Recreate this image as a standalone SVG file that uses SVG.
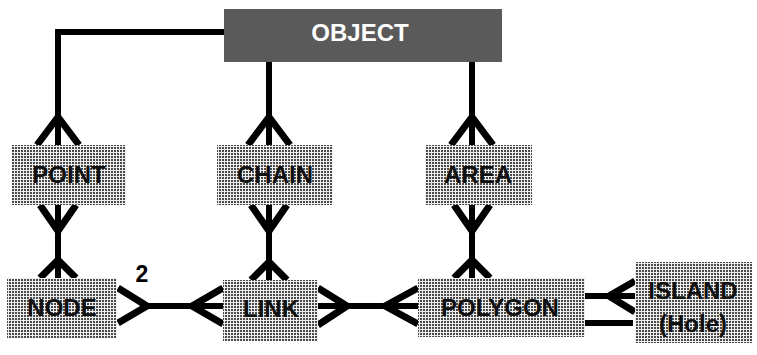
<svg xmlns="http://www.w3.org/2000/svg" width="757" height="355" viewBox="0 0 757 355">
<defs>
<pattern id="dots" width="3" height="3" patternUnits="userSpaceOnUse">
<rect width="3" height="3" fill="#eeeeee"/>
<rect width="2" height="2" fill="#4a4a4a"/>
</pattern>
<style>
.box{fill:url(#dots);}
.lbl{font-family:"Liberation Sans",Arial,sans-serif;font-weight:bold;font-size:24px;fill:#111;text-anchor:middle;}
.ln{stroke:#000;stroke-width:6;fill:none;stroke-linecap:butt;stroke-linejoin:miter;}
.cf{stroke:#000;stroke-width:7;fill:none;stroke-linecap:butt;}
</style>
</defs>
<rect width="757" height="355" fill="#fff"/>
<g id="connectors">
<!-- OBJECT to POINT -->
<polyline class="ln" points="224,32 58,32 58,145"/>
<path class="cf" d="M58,117 L37,145 M58,117 L79,145"/>
<!-- OBJECT to CHAIN -->
<line class="ln" x1="269" y1="62" x2="269" y2="145"/>
<path class="cf" d="M269,117 L248,145 M269,117 L290,145"/>
<!-- OBJECT to AREA -->
<line class="ln" x1="472" y1="62" x2="472" y2="145"/>
<path class="cf" d="M472,117 L451,145 M472,117 L493,145"/>
<!-- POINT to NODE -->
<line class="ln" x1="58" y1="205" x2="58" y2="278"/>
<path class="cf" d="M58,231 L40,205 M58,231 L76,205 M58,260 L40,278 M58,260 L76,278"/>
<!-- CHAIN to LINK -->
<line class="ln" x1="269" y1="205" x2="269" y2="280"/>
<path class="cf" d="M269,231 L251,205 M269,231 L287,205 M269,262 L251,280 M269,262 L287,280"/>
<!-- AREA to POLYGON -->
<line class="ln" x1="472" y1="205" x2="472" y2="278"/>
<path class="cf" d="M472,231 L454,205 M472,231 L490,205 M472,260 L454,278 M472,260 L490,278"/>
<!-- NODE to LINK -->
<line class="ln" x1="146" y1="306" x2="223" y2="306"/>
<path class="cf" d="M147,306 L118,288 M147,306 L118,323"/>
<path class="cf" d="M192,306 L223,288 M192,306 L223,324"/>
<!-- LINK to POLYGON -->
<line class="ln" x1="318" y1="306" x2="418" y2="306"/>
<path class="cf" d="M347,306 L318,288 M347,306 L318,325"/>
<path class="cf" d="M385,306 L418,288 M385,306 L418,324"/>
<!-- POLYGON to ISLAND -->
<line class="ln" x1="585" y1="296" x2="635" y2="296"/>
<path class="cf" d="M609,296 L635,281 M609,296 L635,312"/>
<line class="ln" x1="585" y1="323" x2="633" y2="323"/>
</g>
<g id="object">
<rect x="224" y="9" width="278" height="53" fill="#5a5a5a"/>
<text class="lbl" x="360" y="41" style="fill:#fff">OBJECT</text>
</g>
<g id="point">
<rect class="box" x="12" y="145" width="114" height="60"/>
<text class="lbl" x="69" y="183">POINT</text>
</g>
<g id="chain">
<rect class="box" x="217" y="145" width="116" height="60"/>
<text class="lbl" x="275" y="183">CHAIN</text>
</g>
<g id="area">
<rect class="box" x="425" y="145" width="107" height="60"/>
<text class="lbl" x="478" y="183">AREA</text>
</g>
<g id="node">
<rect class="box" x="7" y="278" width="110" height="60"/>
<text class="lbl" x="62" y="316">NODE</text>
</g>
<g id="link">
<rect class="box" x="223" y="280" width="95" height="61"/>
<text class="lbl" x="271" y="317">LINK</text>
</g>
<g id="polygon">
<rect class="box" x="418" y="278" width="167" height="59"/>
<text class="lbl" x="500" y="316">POLYGON</text>
</g>
<g id="island">
<rect class="box" x="635" y="262" width="117" height="81"/>
<text class="lbl" x="693" y="299">ISLAND</text>
<text class="lbl" x="693" y="332">(Hole)</text>
</g>
<text id="label-2" x="142" y="282" font-family="Liberation Sans, Arial, sans-serif" font-weight="bold" font-size="23" text-anchor="middle" fill="#000">2</text>
</svg>
